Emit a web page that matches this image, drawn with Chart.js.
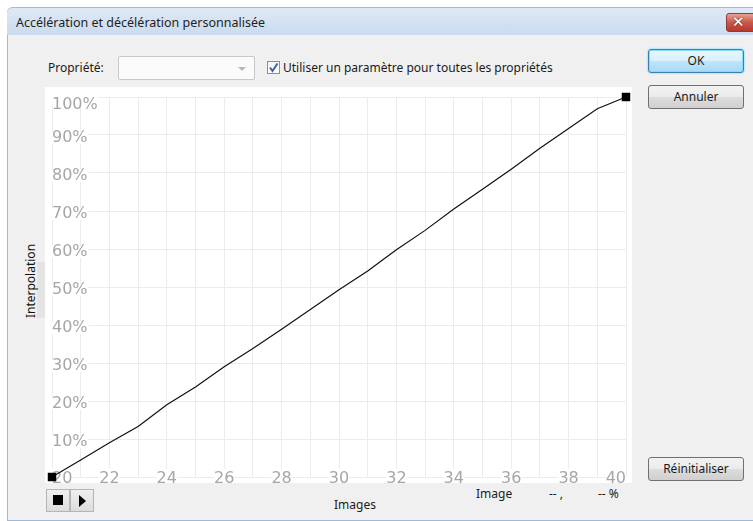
<!DOCTYPE html>
<html lang="fr">
<head>
<meta charset="UTF-8">
<title>Accélération et décélération personnalisée</title>
<style>
  body { margin:0; width:753px; height:521px; background:#fff; overflow:hidden;
         font-family:"Noto Sans", sans-serif; font-size:12px; color:#1b1b1b; position:relative; }
  .abs { position:absolute; }
  #frame { left:7px; top:7px; width:746px; height:513px; background:#f0f0f0;
           border-left:1px solid #9fb9d6; border-bottom:1px solid #9fb9d6; border-top-left-radius:6px; }
  #titlebar { left:7px; top:7px; width:747px; height:28px; border-top-left-radius:6px;
              background:linear-gradient(#dfe9f5, #c9dbef); border-top:1px solid #9fb9d6; box-sizing:border-box; }
  #title { left:16px; top:15px; line-height:16px; font-size:12.5px; color:#1e1e1e; white-space:nowrap; }
  #close { left:726px; top:13px; width:32px; height:19px; border-radius:3px; box-sizing:border-box;
           border:1px solid #8c3b35; background:linear-gradient(#e8a493, #c7584b 50%, #b8382c); }
  #close span { position:absolute; left:5px; top:-1px; color:#fff; font:bold 15px "DejaVu Sans"; text-shadow:0 0 2px #6d1a12; }
  .lbl { white-space:nowrap; line-height:16px; }
  #combo { left:118px; top:56px; width:137px; height:24px; box-sizing:border-box; border:1px solid #c9c9c9;
           border-radius:2px; background:#fbfbfb; }
  #combo i { position:absolute; right:8px; top:10px; width:0; height:0; border-left:4px solid transparent;
             border-right:4px solid transparent; border-top:4px solid #b8b8b8; }
  #chk { left:267px; top:61px; width:13px; height:13px; box-sizing:border-box; border:1px solid #8e8f8f;
         background:linear-gradient(#f4f4f4, #ffffff); }
  .btn { box-sizing:border-box; border:1px solid #707070; border-radius:3px; text-align:center;
         background:linear-gradient(#f2f2f2 0%, #ebebeb 50%, #dddddd 51%, #cfcfcf 100%); line-height:22px; }
  #ok { border-color:#3c7fb1; box-shadow:0 0 0 1px #7fdcfa inset, 0 0 2px #4fc3f7;
        background:linear-gradient(#eaf6fd 0%, #d9f0fc 50%, #bee6fd 51%, #a7d9f5 100%); }
  #plotbg { left:45px; top:87px; width:587px; height:396px; background:#fff; }
  #ylab { left:30px; top:281px; transform:translate(-50%,-50%) rotate(-90deg); white-space:nowrap; color:#111; }
  .mini { box-sizing:border-box; width:24px; height:23px; border:1px solid #b5b5b5; background:linear-gradient(#efefef,#dcdcdc); }
</style>
</head>
<body>
<div id="frame" class="abs"></div>
<div id="titlebar" class="abs"></div>
<div id="title" class="abs">Accélération et décélération personnalisée</div>
<div id="close" class="abs"><span>✕</span></div>

<div class="abs lbl" style="left:48px; top:60px;">Propriété:</div>
<div id="combo" class="abs"><i></i></div>
<div id="chk" class="abs">
  <svg width="11" height="11" style="position:absolute;left:0;top:0">
    <path d="M2 5.5 L4.5 9 L9.5 1.5" stroke="#3c63a8" stroke-width="2" fill="none"/>
  </svg>
</div>
<div class="abs lbl" style="left:283px; top:60px;">Utiliser un paramètre pour toutes les propriétés</div>

<div id="ok" class="abs btn" style="left:648px; top:49px; width:96px; height:24px;">OK</div>
<div class="abs btn" style="left:648px; top:85px; width:96px; height:24px;">Annuler</div>
<div class="abs btn" style="left:648px; top:457px; width:96px; height:24px;">Réinitialiser</div>

<div class="abs" style="left:37px; top:262px; width:8px; height:56px; background:#e4e4e4;"></div>
<div id="ylab" class="abs">Interpolation</div>
<div id="plotbg" class="abs"></div>
<canvas id="myChart" class="abs" width="587" height="396" style="left:45px; top:87px;"></canvas>

<div class="abs mini" style="left:46px; top:489px;">
  <div style="position:absolute; left:6px; top:5px; width:10px; height:10px; background:#000;"></div>
</div>
<div class="abs mini" style="left:70px; top:489px;">
  <div style="position:absolute; left:8px; top:5px; width:0; height:0; border-top:6px solid transparent;
              border-bottom:6px solid transparent; border-left:7px solid #000;"></div>
</div>
<div class="abs lbl" style="left:334px; top:497px;">Images</div>
<div class="abs lbl" style="left:476px; top:486px;">Image</div>
<div class="abs lbl" style="left:549px; top:486px;">-- ,</div>
<div class="abs lbl" style="left:598px; top:486px;">-- %</div>

<script src="https://cdn.jsdelivr.net/npm/chart.js@4.4.1/dist/chart.umd.min.js"></script>
<script>
// images (x) et interpolation en % (y)
const frames = [20, 21, 22, 23, 24, 25, 26, 27, 28, 29, 30, 31, 32, 33, 34, 35, 36, 37, 38, 39, 40];
const interpolation = [0, 4.5, 9.0, 13.3, 19.0, 23.7, 29.0, 33.8, 38.9, 44.1, 49.3,
                       54.2, 59.8, 64.9, 70.5, 75.7, 81.0, 86.5, 91.7, 96.9, 100];
const frameTickLabels = ['20', '', '22', '', '24', '', '26', '', '28', '', '30',
                         '', '32', '', '34', '', '36', '', '38', '', '40'];
const percentTickLabels = ['', '10%', '20%', '30%', '40%', '50%', '60%', '70%', '80%', '90%', '100%'];

const tickColor = '#a6a6a6';
const gridColor = '#ececec';
const lastIdx = interpolation.length - 1;

const ctx = document.getElementById('myChart').getContext('2d');
const myChart = new Chart(ctx, {
    type: 'line',
    data: {
        labels: frames,
        datasets: [{
            data: interpolation,
            borderColor: '#111',
            borderWidth: 1.2,
            pointStyle: 'rect',
            pointRadius: c => (c.dataIndex === 0 || c.dataIndex === lastIdx) ? 6 : 0,
            pointBackgroundColor: '#000',
            pointBorderWidth: 0,
            clip: false
        }]
    },
    options: {
        responsive: false,
        animation: false,
        devicePixelRatio: 1,
        layout: { padding: { left: 7, top: 6, right: 5, bottom: 5 } },
        plugins: { legend: { display: false }, tooltip: { enabled: false } },
        scales: {
            x: {
                type: 'category',
                grid: { color: gridColor, drawTicks: false },
                border: { display: false },
                afterFit: s => { s.height = 0; },
                ticks: {
                    mirror: true, padding: -11, autoSkip: false, maxRotation: 0, align: 'inner',
                    color: tickColor, font: { family: 'DejaVu Sans', size: 16 },
                    showLabelBackdrop: true, backdropColor: '#fff', backdropPadding: 0,
                    callback: (v, i) => frameTickLabels[i]
                }
            },
            y: {
                min: 0, max: 100,
                grid: { color: gridColor, drawTicks: false },
                border: { display: false },
                afterFit: s => { s.width = 0; },
                ticks: {
                    stepSize: 10, mirror: true, padding: 0, labelOffset: 3,
                    color: tickColor, font: { family: 'DejaVu Sans', size: 16, lineHeight: '10px' },
                    showLabelBackdrop: true, backdropColor: '#fff', backdropPadding: 1,
                    // le 100% est poussé sous la ligne du haut
                    callback: (v, i) => i === percentTickLabels.length - 1 ? ['', percentTickLabels[i]] : percentTickLabels[i]
                }
            }
        }
    }
});
</script>
</body>
</html>
